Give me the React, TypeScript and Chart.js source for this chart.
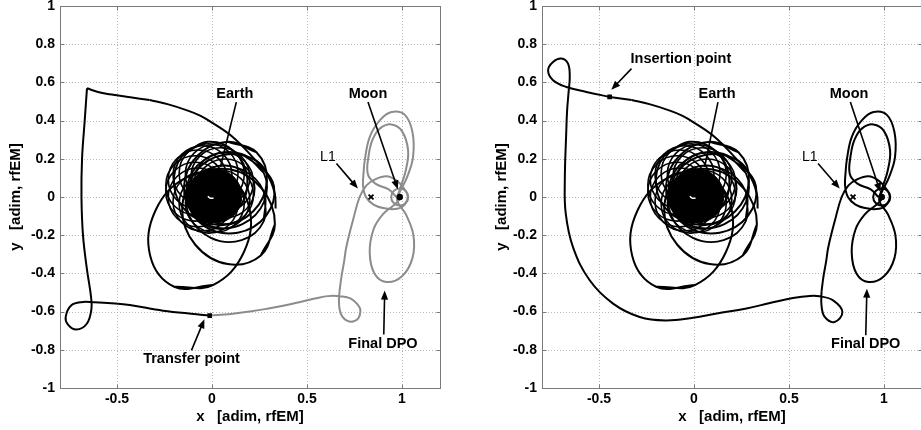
import React, { useEffect, useRef } from 'react';
import { Chart, registerables } from 'chart.js';

Chart.register(...registerables);

const FONT = '"Liberation Sans", Arial, Helvetica, sans-serif';

// ---- axes ----
const xRange = [-0.8, 1.2];
const yRange = [-1, 1];
const xTicks = [-0.5, 0, 0.5, 1];
const yTicks = [-1, -0.8, -0.6, -0.4, -0.2, 0, 0.2, 0.4, 0.6, 0.8, 1];
const xTitle = 'x   [adim, rfEM]';
const yTitle = 'y   [adim, rfEM]';

// ---- Earth region (shared by both panels) ----
const earthDisk = [[0.015, 0.005, 0.142]]; // x, y, radius (data units)
const earthRing = [
  [0.07, 0.045, 0.155], [0.063, 0.078, 0.155], [0.044, 0.104, 0.155], [0.015, 0.121, 0.155],
  [-0.018, 0.125, 0.155], [-0.05, 0.114, 0.155], [-0.075, 0.092, 0.155], [-0.088, 0.062, 0.155],
  [-0.088, 0.028, 0.155], [-0.075, -0.002, 0.155], [-0.05, -0.024, 0.155], [-0.018, -0.035, 0.155],
  [0.015, -0.031, 0.155], [0.044, -0.014, 0.155], [0.063, 0.012, 0.155],
];
const earthMark = [[-0.022, 0.004], [-0.01, -0.006], [0.008, -0.006]];
const loopE1 = [[-0.199, -0.47], [0.005, -0.461], [0.168, -0.288], [0.195, -0.051], [0.069, 0.11], [-0.135, 0.101], [-0.298, -0.072], [-0.325, -0.309]];
const loopE2 = [[0.257, -0.306], [0.331, -0.143], [0.262, 0.044], [0.091, 0.145], [-0.083, 0.1], [-0.157, -0.063], [-0.088, -0.25], [0.083, -0.351]];
const loopE3 = [[0.326, 0.057], [0.234, 0.189], [0.063, 0.221], [-0.086, 0.133], [-0.128, -0.023], [-0.036, -0.155], [0.135, -0.187], [0.284, -0.099]];
const loopE4 = [[0.234, 0.234], [0.083, 0.289], [-0.075, 0.217], [-0.147, 0.059], [-0.092, -0.092], [0.059, -0.147], [0.217, -0.075], [0.289, 0.083]];
const loopE5 = [[-0.025, 0.289], [-0.156, 0.216], [-0.2, 0.063], [-0.13, -0.08], [0.011, -0.129], [0.142, -0.056], [0.186, 0.097], [0.116, 0.24]];
const loopE6 = [[0.272, -0.127], [0.274, 0.026], [0.16, 0.142], [-0.002, 0.154], [-0.118, 0.055], [-0.12, -0.098], [-0.006, -0.214], [0.156, -0.226]];
const loopE7 = [[0.272, 0.127], [0.156, 0.226], [-0.006, 0.214], [-0.12, 0.098], [-0.118, -0.055], [-0.002, -0.154], [0.16, -0.142], [0.274, -0.026]];
const escapeArc = [[0.335, -0.06], [0.33, 0.02], [0.288, 0.125], [0.214, 0.209], [0.109, 0.314], [0.004, 0.387], [-0.06, 0.425], [-0.135, 0.455], [-0.23, 0.485], [-0.328, 0.508]];

// ---- left panel trajectory ----
const leftArcEnd = [[-0.328, 0.508], [-0.43, 0.522], [-0.538, 0.538], [-0.6, 0.55], [-0.658, 0.569]];
const leftDescent = [
  [-0.658, 0.569], [-0.67, 0.4], [-0.684, 0.2], [-0.687, 0], [-0.679, -0.2], [-0.658, -0.38], [-0.637, -0.52],
  [-0.635, -0.59], [-0.66, -0.665], [-0.714, -0.694], [-0.758, -0.668], [-0.77, -0.628], [-0.74, -0.567],
  [-0.68, -0.55], [-0.626, -0.551], [-0.53, -0.556], [-0.433, -0.565], [-0.258, -0.595], [-0.082, -0.614], [-0.012, -0.621],
];
const leftToDpo = [
  [-0.012, -0.621], [0.1, -0.612], [0.198, -0.6], [0.29, -0.585], [0.374, -0.569], [0.47, -0.548], [0.549, -0.53],
  [0.61, -0.519], [0.655, -0.518], [0.71, -0.525], [0.742, -0.539], [0.775, -0.575], [0.781, -0.6], [0.77, -0.635],
  [0.742, -0.652], [0.71, -0.647], [0.685, -0.625], [0.672, -0.59], [0.668, -0.54], [0.671, -0.497],
];
const transferPoint = [[-0.012, -0.621]];

// ---- right panel trajectory ----
const rightArcEnd = [[-0.328, 0.508], [-0.444, 0.524]];
const rightPath = [
  [-0.444, 0.524], [-0.566, 0.55], [-0.672, 0.576], [-0.742, 0.611], [-0.768, 0.663], [-0.742, 0.707], [-0.698, 0.725],
  [-0.663, 0.698], [-0.654, 0.628], [-0.66, 0.55], [-0.668, 0.45], [-0.672, 0.349], [-0.68, 0.087], [-0.675, -0.087],
  [-0.637, -0.262], [-0.549, -0.436], [-0.426, -0.558], [-0.286, -0.628], [-0.15, -0.646], [-0.005, -0.632],
  [0.12, -0.61], [0.276, -0.584], [0.4, -0.555], [0.521, -0.529], [0.61, -0.518], [0.661, -0.52], [0.732, -0.541],
  [0.781, -0.602], [0.74, -0.654], [0.688, -0.628], [0.671, -0.567], [0.671, -0.497],
];
const insertionPoint = [[-0.444, 0.524]];

// ---- DPO around the Moon (shared) ----
const dpoMain = [
  [0.671, -0.497], [0.681, -0.419], [0.695, -0.34], [0.707, -0.262], [0.742, -0.122], [0.777, 0.0], [0.813, 0.061],
  [0.856, 0.091], [0.918, 0.108], [0.97, 0.087], [1.01, 0.045], [1.03, 0.0], [1.005, -0.048], [0.96, -0.063],
  [0.9, -0.058], [0.85, -0.04], [0.81, 0.0], [0.795, 0.06], [0.798, 0.13], [0.804, 0.192], [0.83, 0.314],
  [0.883, 0.401], [0.945, 0.445], [1.015, 0.43], [1.055, 0.34], [1.058, 0.209], [1.025, 0.1], [0.99, 0.03],
  [0.975, -0.02], [1.02, -0.09], [1.06, -0.2], [1.055, -0.32], [1.0, -0.415], [0.918, -0.445], [0.855, -0.4],
  [0.83, -0.29], [0.85, -0.17], [0.9, -0.09], [0.96, -0.04], [1.0, 0.0],
];
const dpoInner = [
  [0.97, 0.0], [0.93, 0.04], [0.86, 0.07], [0.82, 0.12], [0.825, 0.22], [0.845, 0.3], [0.883, 0.358], [0.944, 0.38],
  [1.0, 0.345], [1.032, 0.244], [1.02, 0.14], [0.995, 0.06], [0.975, 0.0],
];
const moonOrbit = [[0.988, 0.0, 0.045]];
const moonDot = [[0.988, 0.0]];
const l1Point = [[0.837, 0.0]];

// ---- annotations (data coordinates) ----
const leftLabels = [
  { text: 'Earth', x: 0.12, y: 0.541, bold: true },
  { text: 'Moon', x: 0.821, y: 0.541, bold: true },
  { text: 'L1', x: 0.61, y: 0.21, bold: false },
  { text: 'Transfer point', x: -0.108, y: -0.85, bold: true },
  { text: 'Final DPO', x: 0.9, y: -0.768, bold: true },
];
const leftArrows = [
  { x1: 0.128, y1: 0.497, x2: 0.045, y2: 0.16, head: false },
  { x1: 0.821, y1: 0.497, x2: 0.978, y2: 0.04, head: true },
  { x1: 0.655, y1: 0.175, x2: 0.768, y2: 0.044, head: true },
  { x1: -0.108, y1: -0.803, x2: -0.04, y2: -0.64, head: true },
  { x1: 0.904, y1: -0.72, x2: 0.909, y2: -0.49, head: true },
];
const rightLabels = [
  { text: 'Insertion point', x: -0.069, y: 0.725, bold: true },
  { text: 'Earth', x: 0.121, y: 0.541, bold: true },
  { text: 'Moon', x: 0.816, y: 0.541, bold: true },
  { text: 'L1', x: 0.609, y: 0.209, bold: false },
  { text: 'Final DPO', x: 0.904, y: -0.768, bold: true },
];
const rightArrows = [
  { x1: -0.329, y1: 0.672, x2: -0.435, y2: 0.562, head: true },
  { x1: 0.126, y1: 0.497, x2: 0.056, y2: 0.157, head: false },
  { x1: 0.823, y1: 0.497, x2: 0.981, y2: 0.026, head: true },
  { x1: 0.653, y1: 0.175, x2: 0.767, y2: 0.044, head: true },
  { x1: 0.904, y1: -0.724, x2: 0.91, y2: -0.48, head: true },
];

// ---- helpers ----
const BLACK = '#000000';
const GRAY = '#8c8c8c';
const toXY = (a: number[][]) => a.map(([x, y]) => ({ x, y }));
const closeLoop = (a: number[][]) => [...a, a[0], a[1]];

const radiusPx = (c: any) => {
  if (!c || !c.raw || c.raw.r === undefined) return 0;
  const s = c.chart.scales.x;
  return Math.abs(s.getPixelForValue(c.raw.r) - s.getPixelForValue(0));
};

function lineDs(a: number[][], color: string, width = 2) {
  return {
    data: toXY(a), showLine: true, borderColor: color, borderWidth: width,
    pointRadius: 0, pointHoverRadius: 0, tension: 0.4, fill: false,
  };
}
function circleDs(a: number[][], color: string, width: number, fillColor: string) {
  return {
    data: a.map(([x, y, r]) => ({ x, y, r })), showLine: false, pointStyle: 'circle',
    pointRadius: radiusPx, pointHoverRadius: radiusPx,
    pointBorderColor: color, pointBackgroundColor: fillColor, pointBorderWidth: width,
  };
}
function markerDs(a: number[][], style: string, radius: number, color: string, width = 1.5) {
  return {
    data: toXY(a), showLine: false, pointStyle: style, pointRadius: radius, pointHoverRadius: radius,
    pointBorderColor: color, pointBackgroundColor: color, pointBorderWidth: width,
  };
}

function earthDatasets() {
  return [
    circleDs(earthDisk, BLACK, 1, BLACK),
    lineDs(closeLoop(loopE1), BLACK, 2),
    lineDs(closeLoop(loopE2), BLACK, 2),
    lineDs(closeLoop(loopE3), BLACK, 2),
    lineDs(closeLoop(loopE4), BLACK, 2),
    lineDs(closeLoop(loopE5), BLACK, 2),
    lineDs(closeLoop(loopE6), BLACK, 1.8),
    lineDs(closeLoop(loopE7), BLACK, 1.8),
    circleDs(earthRing, BLACK, 1.6, 'rgba(0,0,0,0)'),
  ];
}

function makeDecor(labels: any[], arrows: any[]) {
  return {
    id: 'decor',
    beforeDatasetsDraw(chart: any) {
      const { ctx, chartArea: a } = chart;
      const xs = chart.scales.x, ys = chart.scales.y;
      ctx.save();
      ctx.strokeStyle = '#b8b8b8';
      ctx.lineWidth = 1;
      ctx.setLineDash([1, 2]);
      ctx.beginPath();
      for (const v of xTicks) {
        const p = Math.round(xs.getPixelForValue(v)) + 0.5;
        ctx.moveTo(p, a.top); ctx.lineTo(p, a.bottom);
      }
      for (const v of yTicks) {
        const p = Math.round(ys.getPixelForValue(v)) + 0.5;
        ctx.moveTo(a.left, p); ctx.lineTo(a.right, p);
      }
      ctx.stroke();
      ctx.restore();
    },
    afterDatasetsDraw(chart: any) {
      const { ctx, chartArea: a } = chart;
      const xs = chart.scales.x, ys = chart.scales.y;
      ctx.save();
      // frame
      ctx.strokeStyle = '#7a7a7a';
      ctx.lineWidth = 1;
      ctx.setLineDash([]);
      const L = Math.round(a.left) + 0.5, R = Math.round(a.right) + 0.5;
      const T = Math.round(a.top) + 0.5, B = Math.round(a.bottom) + 0.5;
      ctx.strokeRect(L, T, R - L, B - T);
      ctx.beginPath();
      const tl = 4;
      for (const v of xTicks) {
        const p = Math.round(xs.getPixelForValue(v)) + 0.5;
        ctx.moveTo(p, B); ctx.lineTo(p, B - tl);
        ctx.moveTo(p, T); ctx.lineTo(p, T + tl);
      }
      for (const v of yTicks) {
        const p = Math.round(ys.getPixelForValue(v)) + 0.5;
        ctx.moveTo(L, p); ctx.lineTo(L + tl, p);
        ctx.moveTo(R, p); ctx.lineTo(R - tl, p);
      }
      ctx.stroke();
      // arrows
      ctx.strokeStyle = BLACK;
      ctx.fillStyle = BLACK;
      ctx.lineWidth = 1.6;
      for (const ar of arrows) {
        const x1 = xs.getPixelForValue(ar.x1), y1 = ys.getPixelForValue(ar.y1);
        const x2 = xs.getPixelForValue(ar.x2), y2 = ys.getPixelForValue(ar.y2);
        const ang = Math.atan2(y2 - y1, x2 - x1);
        const hl = 9, hw = 3.6;
        const ex = ar.head ? x2 - Math.cos(ang) * hl * 0.8 : x2;
        const ey = ar.head ? y2 - Math.sin(ang) * hl * 0.8 : y2;
        ctx.beginPath();
        ctx.moveTo(x1, y1); ctx.lineTo(ex, ey);
        ctx.stroke();
        if (ar.head) {
          const bx = x2 - Math.cos(ang) * hl, by = y2 - Math.sin(ang) * hl;
          ctx.beginPath();
          ctx.moveTo(x2, y2);
          ctx.lineTo(bx - Math.sin(ang) * hw, by + Math.cos(ang) * hw);
          ctx.lineTo(bx + Math.sin(ang) * hw, by - Math.cos(ang) * hw);
          ctx.closePath();
          ctx.fill();
        }
      }
      // labels
      ctx.textAlign = 'center';
      ctx.textBaseline = 'middle';
      for (const lb of labels) {
        ctx.font = lb.bold ? `bold 14.5px ${FONT}` : `14px ${FONT}`;
        ctx.fillText(lb.text, xs.getPixelForValue(lb.x), ys.getPixelForValue(lb.y));
      }
      ctx.restore();
    },
  };
}

function makeConfig(datasets: any[], labels: any[], arrows: any[], padLeft: number, padRight: number, yWidth: number) {
  const tickFont = { family: FONT, size: 14, weight: 'bold' as const };
  const titleFont = { family: FONT, size: 15, weight: 'bold' as const };
  return {
    type: 'scatter' as const,
    data: { datasets },
    options: {
      animation: false as const,
      responsive: false,
      devicePixelRatio: 1,
      events: [],
      layout: { padding: { left: padLeft, right: padRight, top: 6, bottom: 4 } },
      plugins: { legend: { display: false }, tooltip: { enabled: false } },
      scales: {
        x: {
          type: 'linear' as const, min: xRange[0], max: xRange[1],
          grid: { display: false, drawTicks: false }, border: { display: false },
          ticks: { font: tickFont, color: BLACK, padding: 3, maxRotation: 0, autoSkip: false, callback: (v: any) => String(v) },
          title: { display: true, text: xTitle, font: titleFont, color: BLACK, padding: 0 },
          afterBuildTicks: (s: any) => { s.ticks = xTicks.map((v) => ({ value: v })); },
          afterFit: (s: any) => { s.height = 38; s.paddingLeft = 0; s.paddingRight = 0; },
        },
        y: {
          type: 'linear' as const, min: yRange[0], max: yRange[1],
          grid: { display: false, drawTicks: false }, border: { display: false },
          ticks: { font: tickFont, color: BLACK, padding: 5, autoSkip: false, callback: (v: any) => String(v) },
          title: { display: true, text: yTitle, font: titleFont, color: BLACK, padding: 0 },
          afterBuildTicks: (s: any) => { s.ticks = yTicks.map((v) => ({ value: v })); },
          afterFit: (s: any) => { s.width = yWidth; s.paddingTop = 0; s.paddingBottom = 0; },
        },
      },
    },
    plugins: [makeDecor(labels, arrows)],
  };
}

function leftDatasets() {
  return [
    lineDs(earthMark, '#ffffff', 1.5),
    markerDs(l1Point, 'crossRot', 3.5, BLACK, 1.8),
    markerDs(moonDot, 'circle', 2.5, BLACK),
    markerDs(transferPoint, 'rect', 2.2, BLACK),
    circleDs(moonOrbit, GRAY, 2, 'rgba(0,0,0,0)'),
    lineDs(dpoInner, GRAY, 2),
    lineDs(dpoMain, GRAY, 2),
    lineDs(leftToDpo, GRAY, 2),
    lineDs(leftDescent, BLACK, 2),
    lineDs(leftArcEnd, BLACK, 2),
    lineDs(escapeArc, BLACK, 2),
    ...earthDatasets(),
  ];
}

function rightDatasets() {
  return [
    lineDs(earthMark, '#ffffff', 1.5),
    markerDs(l1Point, 'crossRot', 3.5, BLACK, 1.8),
    markerDs(moonDot, 'circle', 2.5, BLACK),
    markerDs(insertionPoint, 'rect', 2.2, BLACK),
    circleDs(moonOrbit, BLACK, 2, 'rgba(0,0,0,0)'),
    lineDs(dpoInner, BLACK, 2),
    lineDs(dpoMain, BLACK, 2),
    lineDs(rightPath, BLACK, 2),
    lineDs(rightArcEnd, BLACK, 2),
    lineDs(escapeArc, BLACK, 2),
    ...earthDatasets(),
  ];
}

function Panel({ left, width, build }: { left: number; width: number; build: () => any }) {
  const ref = useRef<HTMLCanvasElement | null>(null);
  useEffect(() => {
    if (!ref.current) return;
    const chart = new Chart(ref.current, build());
    return () => chart.destroy();
  }, []);
  return (
    <canvas
      ref={ref}
      width={width}
      height={430}
      style={{ position: 'absolute', left, top: 0, width, height: 430, display: 'block' }}
    />
  );
}

export default function App() {
  return (
    <div style={{ position: 'fixed', left: 0, top: 0, width: 921, height: 430, overflow: 'hidden', background: '#ffffff' }}>
      <Panel left={0} width={460} build={() => makeConfig(leftDatasets(), leftLabels, leftArrows, 7, 20, 53)} />
      <Panel left={460} width={470} build={() => makeConfig(rightDatasets(), rightLabels, rightArrows, 32.5, 8, 49.5)} />
    </div>
  );
}
